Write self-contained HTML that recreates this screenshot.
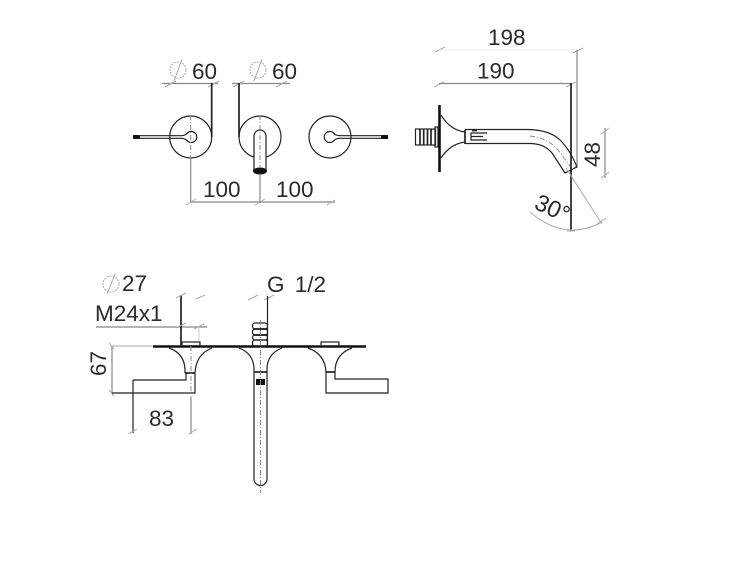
<!DOCTYPE html>
<html><head><meta charset="utf-8"><style>
html,body{margin:0;padding:0;background:#fff;width:750px;height:563px;overflow:hidden}
svg{display:block}
text{font-family:"Liberation Sans",sans-serif;font-size:22.5px;fill:#2a2a2a}
.k{stroke:#222;stroke-width:1.2;fill:none}
.t{stroke:#222;stroke-width:1.7;fill:none}
.g{stroke:#888;stroke-width:1.2;fill:none}
.l{stroke:#aaa;stroke-width:1;fill:none}
.d{stroke:#888;stroke-width:1;fill:none;stroke-dasharray:5 2 1 2}
.b{stroke:#111;stroke-width:2.6;fill:none}
</style></head><body>
<svg width="750" height="563" viewBox="0 0 750 563" xmlns="http://www.w3.org/2000/svg">
<!-- FRONT VIEW -->
<circle cx="178" cy="70" r="8" class="l" stroke-dasharray="2 1"/><path d="M182 59L174 81" class="l"/>
<text x="192" y="79">60</text>
<circle cx="258" cy="70" r="8" class="l" stroke-dasharray="2 1"/><path d="M262 59L254 81" class="l"/>
<text x="272" y="79">60</text>
<path d="M162 83.500H218M232 83.500H290" class="g"/>
<path d="M165 87L176 81M208 87L219 81M233 87L244 81M276 87L287 81" class="l"/>
<path d="M211.700 83V137M239 83V137" class="t"/>
<circle cx="190.700" cy="137" r="21" class="k"/>
<circle cx="260" cy="137" r="21" class="k"/>
<circle cx="330" cy="137" r="21" class="k"/>
<path d="M133 135.700H181Q185 135.700 187 133.500A5.500 5.500 0 1 1 187 140.500Q185 138.300 181 138.300H133" class="k" fill="#fff"/>
<rect x="133" y="135" width="7" height="4" rx="1.500" fill="#111"/>
<path d="M388 135.700H340Q336 135.700 334 133.500A5.500 5.500 0 1 0 334 140.500Q336 138.300 340 138.300H388" class="k"/>
<rect x="381" y="135" width="7" height="4" rx="1.500" fill="#111"/>
<path d="M254 171V136A6 6 0 0 1 266 136V171Z" stroke="#222" stroke-width="1.200" fill="#fff"/>
<ellipse cx="260" cy="171" rx="7" ry="3.500" fill="#111"/>
<path d="M190.700 115V158M260 115V168" class="d"/>
<path d="M190.700 158V203M260 175V203" class="g"/>
<path d="M190 202H335" class="g"/>
<path d="M186 205L196 199M255 205L265 199M327 205L335 200" class="l"/>
<text x="203" y="197">100</text>
<text x="276" y="197">100</text>
<!-- SIDE VIEW -->
<text x="488" y="45">198</text>
<text x="477" y="78.500">190</text>
<path d="M435 52L445 47M573 53L583 48M434 87L444 82M566 87L576 82" class="l"/>
<path d="M439 50H577" stroke="#eee" stroke-width="1" fill="none"/>
<path d="M577 50V166L574 168" class="g" stroke-width="1.500"/>
<path d="M439 83.500H571" class="g"/>
<path d="M571 83V231" class="t" stroke-width="1.300"/>
<path d="M439.500 105V172" class="b"/>
<rect x="415.500" y="129" width="20" height="16" class="k"/>
<path d="M420 129V145M423.700 129V145M427.500 129V145M431 129V145" class="t" stroke-width="2"/>
<rect x="435" y="127" width="3" height="20" class="k"/>
<path d="M441 115Q450 130 465 132M441 158Q450 144 465 142M465 129.500H528Q550 130 560 140Q570 150 577 167L565 173Q558 162 552 153Q544 143 528 143.500H465" class="k" stroke-width="1.300"/>
<path d="M465 130V144" class="t" stroke-width="2"/>
<path d="M487 133H471V140H487M471 136.500H483" class="k" stroke-width=".8"/>
<path d="M472 130.500H477" class="t"/>
<path d="M530 136Q548 138 558 150L570 166" class="d"/>
<path d="M566 168L602 224" class="l"/>
<path d="M530 212Q565 242 602 222" class="l"/>
<path d="M596 225L606 218M567 231H575" class="l"/>
<path d="M605 128V178" class="g"/>
<path d="M601 134L609 128M601 178L609 172" class="l"/>
<text transform="translate(600,167) rotate(-90)">48</text>
<text transform="translate(533,208) rotate(25)" style="font-size:23.500px">30°</text>
<!-- TOP VIEW -->
<circle cx="111" cy="284" r="8" class="l" stroke-dasharray="2 1"/><path d="M115 274L107 294" class="l"/>
<text x="122" y="291">27</text>
<text x="95" y="321">M24x1</text>
<path d="M96 327H207" class="g" stroke="#aaa"/>
<path d="M181 295V345" class="t" stroke-width="1.300"/>
<path d="M176 298L186 293M196 299L205 295M176 328L186 323M194 329L204 324" class="l"/>
<path d="M199 327V345" stroke="#ccc" stroke-width="1" fill="none"/>
<rect x="182" y="342" width="18" height="4" class="k" stroke="#888"/>
<path d="M153 346.500H366" stroke="#111" stroke-width="2.500" fill="none"/>
<path d="M169 348Q186 354 185 373M212 348Q196 354 195 373" class="k"/>
<path d="M185 373H195" class="t"/>
<path d="M111 346H153" class="l"/>
<path d="M112 346V393" class="g"/>
<path d="M109 343L114 349M109 390L114 396" class="l"/>
<text transform="translate(106,376) rotate(-90)">67</text>
<path d="M133 380H186V373M195 373V393H112" class="k"/>
<path d="M133 380V433" class="k"/>
<path d="M191 346V398" class="d"/>
<path d="M191 398V434" class="g"/>
<path d="M128 434L137 429M189 434L197 429" class="l"/>
<text x="149" y="426">83</text>
<text x="267" y="292" style="word-spacing:4px">G 1/2</text>
<path d="M248 300L258 295M264 300L274 295" class="l"/>
<path d="M267.500 296V346" class="k"/>
<rect x="252.500" y="323" width="15" height="6" rx="2.500" class="k"/>
<rect x="252.500" y="329" width="15" height="6" rx="2.500" class="k"/>
<rect x="252.500" y="335" width="15" height="5" rx="2.500" class="k"/>
<rect x="252.500" y="340" width="15" height="6" rx="2.500" class="k"/>
<path d="M253 329H267M253 335H267" class="t"/>
<path d="M239 348Q255 354 254 372M282 348Q266 354 267 372" class="k"/>
<path d="M254 372H267" class="t"/>
<path d="M254 372V479A6.500 6.500 0 0 0 267 479V372" class="k"/>
<rect x="256" y="379" width="9" height="6" fill="#111"/>
<path d="M260.500 320V493" class="d"/>
<rect x="321" y="342" width="18" height="4" class="k" stroke="#888"/>
<path d="M308 348Q325 354 326 372M352 348Q335 354 335 372" class="k"/>
<path d="M326 372H335" class="t"/>
<path d="M326 372V393H388V379H335V372" class="k"/>
</svg>
</body></html>
